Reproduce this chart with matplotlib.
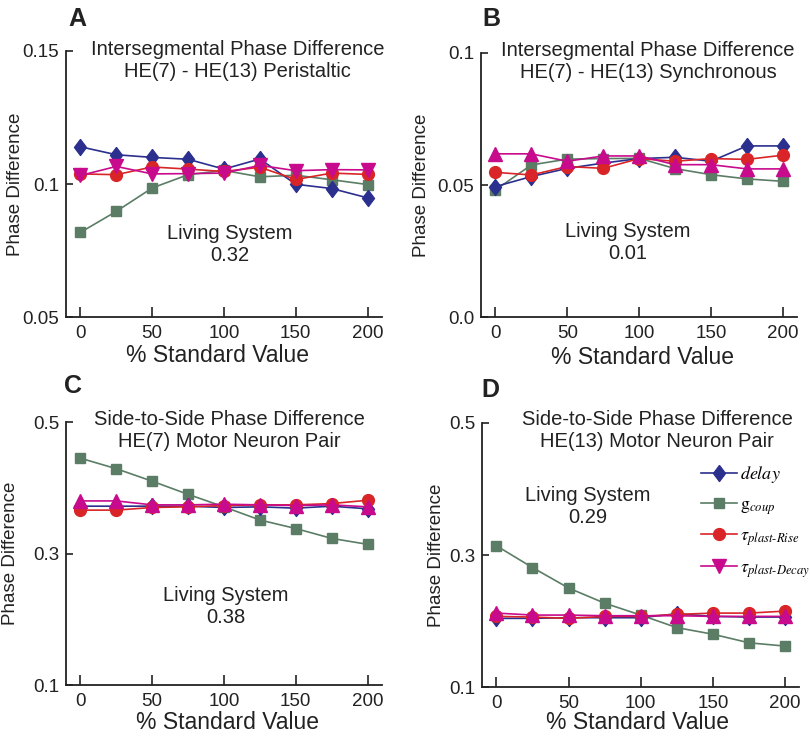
import numpy as np
import matplotlib.pyplot as plt
from matplotlib.lines import Line2D

plt.rcParams['font.family'] = ['Liberation Sans', 'DejaVu Sans']
plt.rcParams['mathtext.fontset'] = 'stix'

x_pct = [0, 25, 50, 75, 100, 125, 150, 175, 200]

# A: intersegmental phase difference, peristaltic
a_delay = [0.1140, 0.1110, 0.1100, 0.1093, 0.1056, 0.1094, 0.0999, 0.0983, 0.0948]
a_gcoup = [0.0818, 0.0897, 0.0985, 0.1035, 0.1051, 0.1027, 0.1033, 0.1016, 0.0998]
a_rise = [0.1038, 0.1035, 0.1064, 0.1056, 0.1047, 0.1063, 0.1017, 0.1041, 0.1036]
a_decay = [0.1032, 0.1066, 0.1038, 0.1039, 0.1041, 0.1070, 0.1050, 0.1054, 0.1053]

# B: intersegmental phase difference, synchronous
b_delay = [0.0494, 0.0532, 0.0563, 0.0583, 0.0600, 0.0605, 0.0590, 0.0648, 0.0648]
b_gcoup = [0.0481, 0.0576, 0.0598, 0.0600, 0.0601, 0.0562, 0.0539, 0.0523, 0.0514]
b_rise = [0.0548, 0.0538, 0.0570, 0.0563, 0.0600, 0.0590, 0.0600, 0.0597, 0.0613]
b_decay = [0.0618, 0.0618, 0.0590, 0.0610, 0.0610, 0.0577, 0.0577, 0.0561, 0.0561]

# C: side-to-side, HE(7)
c_delay = [0.372, 0.372, 0.372, 0.372, 0.370, 0.371, 0.369, 0.372, 0.368]
c_gcoup = [0.445, 0.429, 0.410, 0.390, 0.371, 0.351, 0.338, 0.323, 0.314]
c_rise = [0.366, 0.366, 0.370, 0.371, 0.373, 0.374, 0.374, 0.376, 0.381]
c_decay = [0.380, 0.380, 0.374, 0.374, 0.375, 0.374, 0.373, 0.374, 0.371]

# D: side-to-side, HE(13)
d_delay = [0.204, 0.204, 0.205, 0.205, 0.205, 0.211, 0.207, 0.206, 0.206]
d_gcoup = [0.314, 0.281, 0.250, 0.227, 0.209, 0.190, 0.180, 0.167, 0.162]
d_rise = [0.207, 0.206, 0.204, 0.207, 0.207, 0.210, 0.212, 0.212, 0.215]
d_decay = [0.212, 0.209, 0.209, 0.208, 0.208, 0.208, 0.207, 0.207, 0.207]

blue = '#2b2f8e'
green = '#5b7d66'
red = '#d92528'
magenta = '#c80a8c'

diamond = [(0, 1), (0.75, 0), (0, -1), (-0.75, 0), (0, 1)]
MS = dict(diamond=11.5, square=7.5, circle=8.5, tri=9.5)

panels = [
    dict(letter='A', pos=[0.0815, 0.5716, 0.390, 0.3595],
         data=(a_delay, a_gcoup, a_rise, a_decay), tri='v',
         ylim=(0.05, 0.15), yticks=[0.05, 0.1, 0.15], ylabs=['0.05', '0.1', '0.15'],
         title='Intersegmental Phase Difference\nHE(7) - HE(13) Peristaltic',
         tpos=(0.544, 0.966), living='Living System\n0.32', lpos=(0.519, 0.271),
         ylab=-0.161, xlab=(0.478, -0.143), lpos_fig=(0.095, 0.975)),
    dict(letter='B', pos=[0.5938, 0.5716, 0.3906, 0.3568],
         data=(b_delay, b_gcoup, b_rise, b_decay), tri='^',
         ylim=(0.0, 0.1), yticks=[0.0, 0.05, 0.1], ylabs=['0.0', '0.05', '0.1'],
         title='Intersegmental Phase Difference\nHE(7) - HE(13) Synchronous',
         tpos=(0.528, 0.966), living='Living System\n0.01', lpos=(0.465, 0.282),
         ylab=-0.187, xlab=(0.509, -0.152), lpos_fig=(0.607, 0.975)),
    dict(letter='C', pos=[0.0815, 0.0743, 0.390, 0.3554],
         data=(c_delay, c_gcoup, c_rise, c_decay), tri='^',
         ylim=(0.1, 0.5), yticks=[0.1, 0.3, 0.5], ylabs=['0.1', '0.3', '0.5'],
         title='Side-to-Side Phase Difference\nHE(7) Motor Neuron Pair',
         tpos=(0.516, 0.968), living='Living System\n0.38', lpos=(0.506, 0.298),
         ylab=-0.177, xlab=(0.51, -0.141), lpos_fig=(0.090, 0.479)),
    dict(letter='D', pos=[0.595, 0.0716, 0.392, 0.3568],
         data=(d_delay, d_gcoup, d_rise, d_decay), tri='^',
         ylim=(0.1, 0.5), yticks=[0.1, 0.3, 0.5], ylabs=['0.1', '0.3', '0.5'],
         title='Side-to-Side Phase Difference\nHE(13) Motor Neuron Pair',
         tpos=(0.552, 0.971), living='Living System\n0.29', lpos=(0.334, 0.682),
         ylab=-0.142, xlab=(0.489, -0.133), lpos_fig=(0.605, 0.473)),
]


def draw_panel(fig, p):
    ax = fig.add_axes(p['pos'])
    delay, gcoup, rise, decay = p['data']
    ax.plot(x_pct, gcoup, color=green, marker='s', ms=MS['square'], lw=1.2)
    ax.plot(x_pct, delay, color=blue, marker=diamond, ms=MS['diamond'], lw=1.2)
    ax.plot(x_pct, rise, color=red, marker='o', ms=MS['circle'], lw=1.2)
    ax.plot(x_pct, decay, color=magenta, marker=p['tri'], ms=MS['tri'], lw=1.2)

    ax.set_xlim(-10, 210)
    ax.set_ylim(*p['ylim'])
    ax.set_xticks([0, 50, 100, 150, 200])
    ax.set_yticks(p['yticks'])
    ax.set_yticklabels(p['ylabs'])
    ax.spines['top'].set_visible(False)
    ax.spines['right'].set_visible(False)
    for s in ('left', 'bottom'):
        ax.spines[s].set_linewidth(1.3)
        ax.spines[s].set_color('#222222')
    ax.tick_params(axis='x', direction='in', length=7, width=1.2, pad=6,
                   labelsize=13.5, colors='#222222')
    ax.tick_params(axis='y', direction='in', length=5, width=1.2, pad=5,
                   labelsize=13.5, colors='#222222')

    ax.set_ylabel('Phase Difference', fontsize=13.5, color='#222222', va='center')
    ax.yaxis.set_label_coords(p['ylab'], 0.5)
    ax.set_xlabel('% Standard Value', fontsize=16.5, color='#222222', va='center')
    ax.xaxis.set_label_coords(*p['xlab'])

    ax.text(p['tpos'][0], p['tpos'][1], p['title'], transform=ax.transAxes,
            ha='center', va='center', fontsize=14.5, linespacing=1.2,
            color='#222222')
    ax.text(p['lpos'][0], p['lpos'][1], p['living'], transform=ax.transAxes,
            ha='center', va='center', fontsize=14.5, linespacing=1.2,
            color='#222222')
    fig.text(p['lpos_fig'][0], p['lpos_fig'][1], p['letter'], ha='center',
             va='center', fontsize=18, fontweight='bold', color='#222222')
    return ax


def main():
    fig = plt.figure(figsize=(8.1, 7.4), dpi=100)
    axes = [draw_panel(fig, p) for p in panels]

    handles = [
        Line2D([], [], color=blue, marker=diamond, ms=MS['diamond'], lw=1.2),
        Line2D([], [], color=green, marker='s', ms=MS['square'], lw=1.2),
        Line2D([], [], color=red, marker='o', ms=MS['circle'], lw=1.2),
        Line2D([], [], color=magenta, marker='v', ms=MS['tri'], lw=1.2),
    ]
    labels = [r'$\mathit{delay}$', r'$\mathrm{g}_{\mathit{coup}}$',
              r'$\tau_{\mathit{plast\text{-}Rise}}$',
              r'$\tau_{\mathit{plast\text{-}Decay}}$']
    axes[3].legend(handles, labels, loc='upper left', bbox_to_anchor=(0.69, 0.845),
                   frameon=False, fontsize=13, handlelength=2.0,
                   handletextpad=0.15, labelspacing=0.62, borderpad=0,
                   borderaxespad=0)

    fig.savefig('out.png', dpi=100)


if __name__ == "__main__":
    main()
